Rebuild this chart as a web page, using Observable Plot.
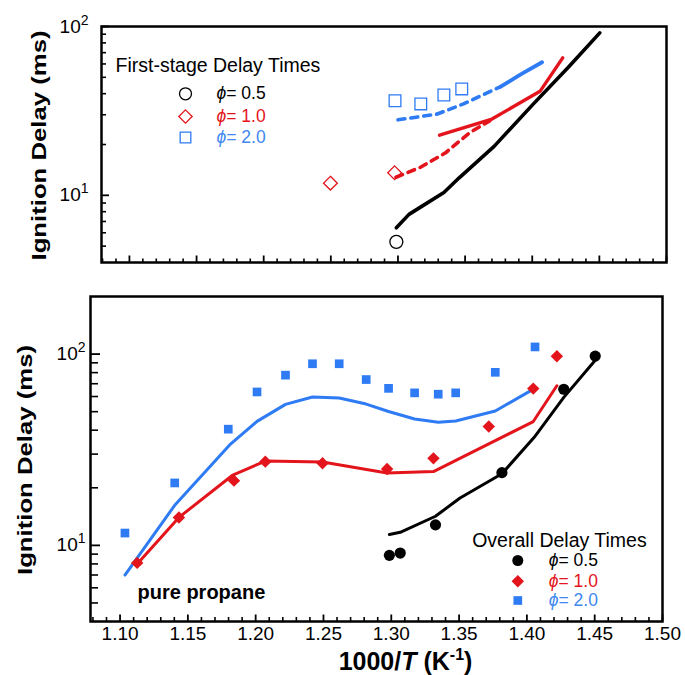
<!DOCTYPE html>
<html><head><meta charset="utf-8">
<script src="https://cdn.jsdelivr.net/npm/d3@7"></script>
<script src="https://cdn.jsdelivr.net/npm/@observablehq/plot@0.6"></script>
<style>
body{margin:0;background:#fff;}
#chart{position:relative;width:685px;height:675px;background:#fff;}
#chart svg{display:block;}
</style></head><body><div id="chart"></div>
<script>
// ---------- DATA ----------
// Top panel: first-stage delay times (ms)
const topBlackLineX = [1.2988, 1.3082, 1.318, 1.3342, 1.3456, 1.3716, 1.4009, 1.4269, 1.4503];
const topBlackLineY = [6.42, 7.71, 8.63, 10.4, 12.7, 19.5, 34.8, 57.3, 91.7];
const topRedSolidX = [1.331, 1.370, 1.4058, 1.4227];
const topRedSolidY = [22.7, 28.3, 41.3, 65.2];
const topRedDashX = [1.2985, 1.3163, 1.3352, 1.3537, 1.3683];
const topRedDashY = [12.8, 14.6, 17.8, 23.6, 27.6];
const topBlueDashX = [1.300, 1.3293, 1.3488, 1.3765];
const topBlueDashY = [28.0, 30.3, 34.8, 44.0];
const topBlueSolidX = [1.3765, 1.3911, 1.4073];
const topBlueSolidY = [44.0, 51.9, 61.4];
const topCircleX = [1.2988];
const topCircleY = [5.3];
const topDiamondX = [1.2497, 1.2975];
const topDiamondY = [11.8, 13.6];
const topSquareX = [1.2978, 1.317, 1.3342, 1.3475];
const topSquareY = [36.3, 34.8, 39.3, 42.7];

// Bottom panel: overall delay times (ms)
const botBlueSqX = [1.1036, 1.1403, 1.1798, 1.201, 1.222, 1.2419, 1.2616, 1.2815, 1.298, 1.3172, 1.3346, 1.3475, 1.3767, 1.406];
const botBlueSqY = [11.6, 21.2, 40.5, 63.4, 77.6, 89, 89, 73.6, 66.2, 62.7, 61.7, 62.7, 80.3, 109];
const botBlueLineX = [1.1036, 1.1403, 1.1808, 1.201, 1.222, 1.2419, 1.2616, 1.2815, 1.298, 1.3172, 1.3346, 1.3475, 1.3767, 1.4045];
const botBlueLineY = [7.0, 16.2, 33.5, 44.5, 54.6, 59.7, 58.9, 54.8, 50.1, 45.8, 44.0, 44.7, 50.4, 65.4];
const botRedDiaX = [1.1126, 1.1434, 1.184, 1.2071, 1.2493, 1.2969, 1.3311, 1.3719, 1.4047, 1.4221];
const botRedDiaY = [8.1, 14.0, 21.8, 27.4, 26.9, 25.1, 28.5, 41.8, 66.0, 97.5];
const botRedLineX = [1.1126, 1.1434, 1.1827, 1.2071, 1.2493, 1.2969, 1.3311, 1.3719, 1.4047, 1.4221];
const botRedLineY = [8.0, 14.0, 23.2, 27.6, 27.3, 23.9, 24.3, 33.9, 44.4, 68.3];
const botBlackDotX = [1.2986, 1.3066, 1.3326, 1.3816, 1.4272, 1.4504];
const botBlackDotY = [8.87, 9.12, 12.8, 24.0, 65.5, 97.6];
const botBlackLineX = [1.2986, 1.3066, 1.3326, 1.3507, 1.3816, 1.4054, 1.4272, 1.4504];
const botBlackLineY = [11.4, 11.7, 14.2, 17.7, 23.7, 36.7, 59.4, 92.8];

// Ticks and labels
const xMajorTicks = [1.10, 1.15, 1.20, 1.25, 1.30, 1.35, 1.40, 1.45, 1.50];
const xMinorTicks = [1.08, 1.09, 1.11, 1.12, 1.13, 1.14, 1.16, 1.17, 1.18, 1.19, 1.21, 1.22, 1.23, 1.24,
  1.26, 1.27, 1.28, 1.29, 1.31, 1.32, 1.33, 1.34, 1.36, 1.37, 1.38, 1.39, 1.41, 1.42, 1.43, 1.44,
  1.46, 1.47, 1.48, 1.49];
const yMajorTicks = [10, 100];
const yMajorLabels = ["10^1", "10^2"];
const yMinorTicks = [5, 6, 7, 8, 9, 20, 30, 40, 50, 60, 70, 80, 90];
const xTickLabels = ["1.10", "1.15", "1.20", "1.25", "1.30", "1.35", "1.40", "1.45", "1.50"];

const yTitle = "Ignition Delay (ms)";
const xTitle = "1000/T (K-1)";
const topLegendTitle = "First-stage Delay Times";
const botLegendTitle = "Overall Delay Times";
const legendLabels = ["\u03D5= 0.5", "\u03D5= 1.0", "\u03D5= 2.0"];
const panelNote = "pure propane";

// ---------- STYLE ----------
const FONT = '"Liberation Sans", Arial, Helvetica, sans-serif';
const RED = "#e3141b", BLUE = "#2e7bf4", BLUE_T = "#4088f0";
const seriesColors = ["black", RED, BLUE];
const labelColors = ["black", RED, BLUE_T];
const W = 685;

function pts(xs, ys) { return xs.map((x, i) => ({x, y: ys[i]})); }

function tickMarks(plotW, plotH, xMajLen, xMinLen, yMajLen, yMinLen) {
  return [
    Plot.ruleX(xMinorTicks, {x: d => d, insetTop: plotH - xMinLen, stroke: "black", strokeWidth: 1.6}),
    Plot.ruleX(xMajorTicks, {x: d => d, insetTop: plotH - xMajLen, stroke: "black", strokeWidth: 1.8}),
    Plot.ruleY(yMinorTicks, {y: d => d, insetRight: plotW - yMinLen, stroke: "black", strokeWidth: 1.6}),
    Plot.ruleY(yMajorTicks, {y: d => d, insetRight: plotW - yMajLen, stroke: "black", strokeWidth: 1.8})
  ];
}
const txt = (o) => Object.assign({text: d => d, textAnchor: "start", lineAnchor: "middle"}, o);

// ---------- TOP PANEL ----------
const tM = {top: 26, right: 19, bottom: 18, left: 101};
const tH = 280;
const tPW = W - tM.left - tM.right, tPH = tH - tM.top - tM.bottom;
const lineOpt = (c, w, dash) => ({x: "x", y: "y", stroke: c, strokeWidth: w, strokeLinecap: "round", strokeLinejoin: "round", strokeDasharray: dash});
const topLegendDy = [67.3, 90, 111];
const topSymbols = ["circle", "diamond2", "square"];

const topPlot = Plot.plot({
  width: W, height: tH,
  marginTop: tM.top, marginRight: tM.right, marginBottom: tM.bottom, marginLeft: tM.left,
  style: {fontFamily: FONT, background: "white", color: "black"},
  x: {type: "linear", domain: [1.0792, 1.5], axis: null},
  y: {type: "log", domain: [4, 100], axis: null},
  marks: [
    ...tickMarks(tPW, tPH, 6.5, 3.5, 8, 5),
    Plot.axisY(yMajorTicks, {anchor: "left", tickSize: 0, tickPadding: 13, tickFormat: d => yMajorLabels[yMajorTicks.indexOf(d)], fontSize: 19, label: null}),
    Plot.text([yTitle], txt({frameAnchor: "left", dx: -62, dy: 1, rotate: -90, textAnchor: "middle", fontSize: 21, fontWeight: "bold"})),
    Plot.line(pts(topBlueDashX, topBlueDashY), lineOpt(BLUE, 3.6, "7,6")),
    Plot.line(pts(topBlueSolidX, topBlueSolidY), lineOpt(BLUE, 3.8)),
    Plot.line(pts(topRedDashX, topRedDashY), lineOpt(RED, 3.6, "7,6")),
    Plot.line(pts(topRedSolidX, topRedSolidY), lineOpt(RED, 3.4)),
    Plot.line(pts(topBlackLineX, topBlackLineY), lineOpt("black", 3.6)),
    Plot.dot(pts(topCircleX, topCircleY), {x: "x", y: "y", r: 6.5, symbol: "circle", stroke: "black", strokeWidth: 1.3, fill: "none"}),
    Plot.dot(pts(topDiamondX, topDiamondY), {x: "x", y: "y", r: 6.2, symbol: "diamond2", stroke: RED, strokeWidth: 1.3, fill: "none"}),
    Plot.dot(pts(topSquareX, topSquareY), {x: "x", y: "y", r: 6.6, symbol: "square", stroke: BLUE, strokeWidth: 1.3, fill: "none"}),
    Plot.text([topLegendTitle], txt({frameAnchor: "top-left", dx: 14, dy: 39.5, fontSize: 19.5})),
    ...legendLabels.flatMap((lab, i) => [
      Plot.dot([lab], {frameAnchor: "top-left", dx: 84, dy: topLegendDy[i], symbol: topSymbols[i], r: 6, stroke: seriesColors[i], strokeWidth: 1.3, fill: "none"}),
      Plot.text([lab], txt({frameAnchor: "top-left", dx: 115, dy: topLegendDy[i], fontSize: 17.5, fill: labelColors[i]}))
    ]),
    Plot.frame({stroke: "black", strokeWidth: 2.5})
  ]
});

// ---------- BOTTOM PANEL ----------
const bM = {top: 16, right: 23, bottom: 54, left: 90};
const bH = 395;
const bPW = W - bM.left - bM.right, bPH = bH - bM.top - bM.bottom;
const botLegendDy = [264, 284.7, 304];
const botSymbols = ["circle", "diamond2", "square"];
const botR = [5.5, 5.6, 4.9];

const botPlot = Plot.plot({
  width: W, height: bH,
  marginTop: bM.top, marginRight: bM.right, marginBottom: bM.bottom, marginLeft: bM.left,
  style: {fontFamily: FONT, background: "white", color: "black"},
  x: {type: "linear", domain: [1.0782, 1.5], axis: null},
  y: {type: "log", domain: [4, 200], axis: null},
  marks: [
    ...tickMarks(bPW, bPH, 6.5, 4, 10, 8),
    Plot.axisY(yMajorTicks, {anchor: "left", tickSize: 0, tickPadding: 5, tickFormat: d => yMajorLabels[yMajorTicks.indexOf(d)], fontSize: 19, label: null}),
    Plot.axisX(xMajorTicks, {anchor: "bottom", tickSize: 0, tickPadding: 5, tickFormat: d => xTickLabels[xMajorTicks.indexOf(d)], fontSize: 19, label: null}),
    Plot.text([yTitle], txt({frameAnchor: "left", dx: -65, dy: 1, rotate: -90, textAnchor: "middle", fontSize: 21, fontWeight: "bold"})),
    Plot.text([xTitle], txt({frameAnchor: "bottom", dx: 29, dy: 40, textAnchor: "middle", fontSize: 25, fontWeight: "bold"})),
    Plot.line(pts(botBlueLineX, botBlueLineY), lineOpt(BLUE, 3)),
    Plot.line(pts(botRedLineX, botRedLineY), lineOpt(RED, 3)),
    Plot.line(pts(botBlackLineX, botBlackLineY), lineOpt("black", 3)),
    Plot.dot(pts(botBlueSqX, botBlueSqY), {x: "x", y: "y", r: 4.9, symbol: "square", fill: BLUE}),
    Plot.dot(pts(botRedDiaX, botRedDiaY), {x: "x", y: "y", r: 5.6, symbol: "diamond2", fill: RED}),
    Plot.dot(pts(botBlackDotX, botBlackDotY), {x: "x", y: "y", r: 5.6, symbol: "circle", fill: "black"}),
    Plot.text([panelNote], txt({frameAnchor: "top-left", dx: 47, dy: 295.6, fontSize: 20, fontWeight: "bold"})),
    Plot.text([botLegendTitle], txt({frameAnchor: "top-left", dx: 381.7, dy: 244.5, fontSize: 19.5})),
    ...legendLabels.flatMap((lab, i) => [
      Plot.dot([lab], {frameAnchor: "top-left", dx: 427.3, dy: botLegendDy[i], symbol: botSymbols[i], r: botR[i], fill: seriesColors[i]}),
      Plot.text([lab], txt({frameAnchor: "top-left", dx: 458.3, dy: botLegendDy[i], fontSize: 17.5, fill: labelColors[i]}))
    ]),
    Plot.frame({stroke: "black", strokeWidth: 2.5})
  ]
});

const chart = document.getElementById("chart");
chart.appendChild(topPlot);
chart.appendChild(botPlot);

// ---------- text styling (mixed italic / superscript) ----------
const NS = "http://www.w3.org/2000/svg";
function addSpan(t, s, attrs) {
  const e = document.createElementNS(NS, "tspan");
  e.textContent = s;
  for (const k in attrs) e.setAttribute(k, attrs[k]);
  t.appendChild(e);
}
chart.querySelectorAll("text").forEach(t => {
  const s = t.textContent;
  if (s === yTitle) {
    t.setAttribute("textLength", 230);
    t.setAttribute("lengthAdjust", "spacingAndGlyphs");
  } else if (legendLabels.includes(s)) {
    t.textContent = "";
    addSpan(t, s[0], {"font-style": "italic"});
    addSpan(t, s.slice(1), {});
  } else if (yMajorLabels.includes(s)) {
    const [base, exp] = s.split("^");
    t.textContent = "";
    addSpan(t, base, {});
    addSpan(t, exp, {"font-size": 14, dy: "-8"});
  } else if (s === xTitle) {
    t.textContent = "";
    addSpan(t, "1000/", {});
    addSpan(t, "T", {"font-style": "italic"});
    addSpan(t, " (K", {});
    addSpan(t, "-1", {"font-size": 16, dy: "-10"});
    addSpan(t, ")", {dy: "10"});
  }
});
</script>
</body></html>
